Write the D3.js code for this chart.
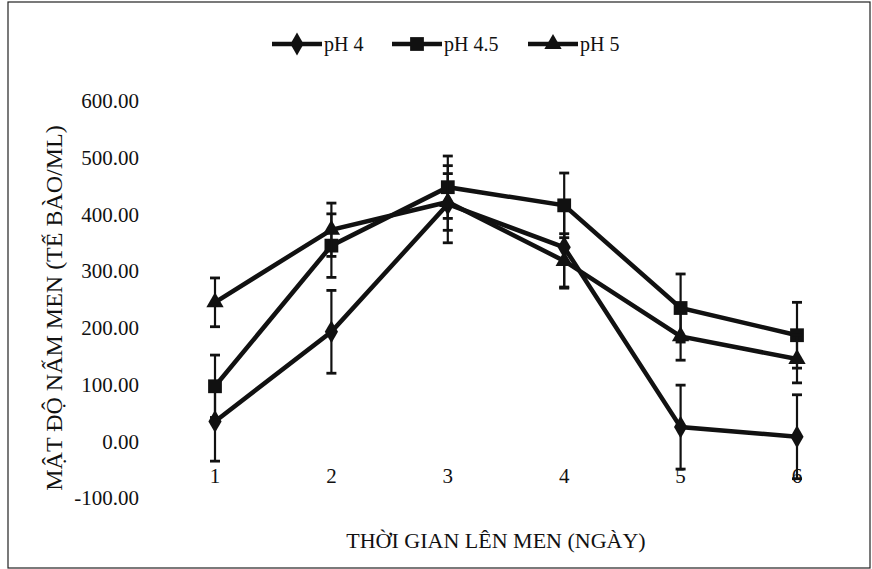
<!DOCTYPE html>
<html>
<head>
<meta charset="utf-8">
<script src="https://d3js.org/d3.v7.min.js"></script>
<style>
  body { margin: 0; background: #fff; }
  text { font-family: "Liberation Serif", "Times New Roman", serif; fill: #111; }
</style>
</head>
<body>
<script>
  var days = [1, 2, 3, 4, 5, 6];
  var seriesNames = ["pH 4", "pH 4.5", "pH 5"];
  var ph4 = [35, 193, 418, 342, 25, 8];
  var ph4Err = [70, 73, 68, 70, 74, 74];
  var ph45 = [97, 345, 448, 416, 235, 187];
  var ph45Err = [55, 56, 55, 57, 60, 58];
  var ph5 = [245, 373, 422, 318, 185, 145];
  var ph5Err = [43, 47, 50, 48, 42, 42];
  var yTicks = [600, 500, 400, 300, 200, 100, 0, -100];

  var width = 872, height = 569;
  var svg = d3.select("body").append("svg")
    .attr("width", width)
    .attr("height", height);

  // scanned page frame
  svg.append("rect")
    .attr("x", 8).attr("y", 2)
    .attr("width", width - 10).attr("height", height - 3)
    .attr("fill", "none").attr("stroke", "#222").attr("stroke-width", 1.2);

  var x = d3.scalePoint().domain(days).range([215, 797]);
  var y = d3.scaleLinear().domain([-100, 600]).range([498, 101]);

  var series = [
    { name: seriesNames[0], values: ph4, err: ph4Err, shape: d3.symbolDiamond, size: 150 },
    { name: seriesNames[1], values: ph45, err: ph45Err, shape: d3.symbolSquare, size: 190 },
    { name: seriesNames[2], values: ph5, err: ph5Err, shape: d3.symbolTriangle, size: 130 }
  ];

  // y tick labels
  svg.append("g").selectAll("text")
    .data(yTicks)
    .enter().append("text")
    .attr("x", 139)
    .attr("y", d => y(d))
    .attr("dy", "0.35em")
    .attr("text-anchor", "end")
    .attr("font-size", 21)
    .text(d => d.toFixed(2));

  // x tick labels
  svg.append("g").selectAll("text")
    .data(days)
    .enter().append("text")
    .attr("x", d => x(d))
    .attr("y", 483)
    .attr("text-anchor", "middle")
    .attr("font-size", 21)
    .text(d => d);

  // axis titles
  svg.append("text")
    .attr("transform", "translate(62, 308) rotate(-90)")
    .attr("text-anchor", "middle")
    .attr("font-size", 24)
    .text("MẬT ĐỘ NẤM MEN (TẾ BÀO/ML)");

  svg.append("text")
    .attr("x", 496).attr("y", 548)
    .attr("text-anchor", "middle")
    .attr("font-size", 22)
    .text("THỜI GIAN LÊN MEN (NGÀY)");

  var line = d3.line()
    .x((d, i) => x(days[i]))
    .y(d => y(d));

  series.forEach(function(s) {
    var g = svg.append("g");
    // error bars
    var eb = g.selectAll(".err").data(s.values).enter().append("g");
    eb.append("line")
      .attr("x1", (d, i) => x(days[i])).attr("x2", (d, i) => x(days[i]))
      .attr("y1", (d, i) => y(d - s.err[i])).attr("y2", (d, i) => y(d + s.err[i]))
      .attr("stroke", "#111").attr("stroke-width", 2.2);
    [-1, 1].forEach(function(sign) {
      eb.append("line")
        .attr("x1", (d, i) => x(days[i]) - 5).attr("x2", (d, i) => x(days[i]) + 5)
        .attr("y1", (d, i) => y(d + sign * s.err[i])).attr("y2", (d, i) => y(d + sign * s.err[i]))
        .attr("stroke", "#111").attr("stroke-width", 2.8);
    });
    g.append("path")
      .attr("d", line(s.values))
      .attr("fill", "none")
      .attr("stroke", "#111")
      .attr("stroke-width", 4.5);
    g.selectAll(".pt").data(s.values).enter().append("path")
      .attr("transform", (d, i) => "translate(" + x(days[i]) + "," + y(d) + ")")
      .attr("d", d3.symbol().type(s.shape).size(s.size))
      .attr("fill", "#111");
  });

  // legend
  var legendX = [272, 392, 528];
  var legend = svg.append("g").selectAll("g")
    .data(series)
    .enter().append("g")
    .attr("transform", (d, i) => "translate(" + legendX[i] + ",44)");
  legend.append("line")
    .attr("x1", 0).attr("x2", 50)
    .attr("stroke", "#111").attr("stroke-width", 4.5);
  legend.append("path")
    .attr("transform", "translate(25,0)")
    .attr("d", d => d3.symbol().type(d.shape).size(d.size)())
    .attr("fill", "#111");
  legend.append("text")
    .attr("x", 52).attr("y", 0).attr("dy", "0.35em")
    .attr("font-size", 20)
    .text(d => d.name);
</script>
</body>
</html>
